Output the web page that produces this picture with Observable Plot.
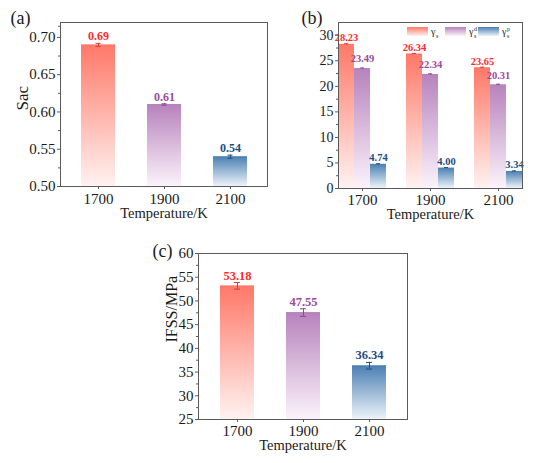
<!DOCTYPE html>
<html>
<head>
<meta charset="utf-8">
<script src="https://cdn.jsdelivr.net/npm/d3@7"></script>
<script src="https://cdn.jsdelivr.net/npm/@observablehq/plot@0.6"></script>
<style>
  html, body { margin: 0; padding: 0; background: #fff; }
  #root { position: relative; width: 550px; height: 463px; overflow: hidden; font-family: "Liberation Serif", serif; }
  .panel { position: absolute; }
  .panel svg { overflow: visible; }
  .panel svg, .panel svg text, .panel svg g { font-family: "Liberation Serif", serif !important; }
</style>
</head>
<body>
<svg width="0" height="0" style="position:absolute">
  <defs>
    <linearGradient id="gRed" x1="0" y1="0" x2="0" y2="1">
      <stop offset="0" stop-color="#ff7868"/>
      <stop offset="1" stop-color="#fff2f0"/>
    </linearGradient>
    <linearGradient id="gPurple" x1="0" y1="0" x2="0" y2="1">
      <stop offset="0" stop-color="#b782bc"/>
      <stop offset="1" stop-color="#fbf3fb"/>
    </linearGradient>
    <linearGradient id="gBlue" x1="0" y1="0" x2="0" y2="1">
      <stop offset="0" stop-color="#4a7fb2"/>
      <stop offset="1" stop-color="#edf3fa"/>
    </linearGradient>
  </defs>
</svg>
<div id="root">
  <div class="panel" id="pa" style="left:0;top:0"></div>
  <div class="panel" id="pb" style="left:275px;top:0"></div>
  <div class="panel" id="pc" style="left:130px;top:225px"></div>
</div>
<script>
// ---------- data ----------
const temps = ["1700", "1900", "2100"];

const sacValues = [0.69, 0.61, 0.54];
const sacErrors = [0.002, 0.001, 0.002];
const sacTicks = [0.50, 0.55, 0.60, 0.65, 0.70];
const sacMinorTicks = [0.525, 0.575, 0.625, 0.675, 0.715];

const gammaKeys = ["s", "d", "p"];
const gammaS = [28.23, 26.34, 23.65];
const gammaD = [23.49, 22.34, 20.31];
const gammaP = [4.74, 4.00, 3.34];
const gammaErr = [0.1, 0.1, 0.1];
const gammaTicks = [0, 5, 10, 15, 20, 25, 30];
const gammaMinorTicks = [2.5, 7.5, 12.5, 17.5, 22.5, 27.5];

const ifssValues = [53.18, 47.55, 36.34];
const ifssErrors = [0.7, 0.8, 0.7];
const ifssTicks = [25, 30, 35, 40, 45, 50, 55, 60];
const ifssMinorTicks = [27.5, 32.5, 37.5, 42.5, 47.5, 52.5, 57.5];

// ---------- styles ----------
const serif = "Liberation Serif";
const fills = ["url(#gRed)", "url(#gPurple)", "url(#gBlue)"];
const inks = ["#ff2b2b", "#9a4b9a", "#1f4d7c"];
const errInks = ["#d83a3a", "#8a4a8a", "#1f4d7c"];
const frameColor = "#5a5a5a";
const styleFor = size => ({fontFamily: serif, fontSize: size + "px", color: "#1a1a1a", background: "transparent", overflow: "visible"});

function rows(values, errors) {
  return temps.map((t, i) => ({temp: t, value: values[i], err: errors[i], fill: fills[i], ink: inks[i], eink: errInks[i]}));
}

function simplePanel({values, errors, domain, ticks, minor, fmt, yLabel, tag, width, height, margins, yLabelDx, yLabelSize, labelSize, capInset, tagDx, tagDy, xTitleDy, tickFont, xPad}) {
  const data = rows(values, errors);
  return Plot.plot({
    width, height,
    marginLeft: margins[0], marginRight: margins[1], marginTop: margins[2], marginBottom: margins[3],
    style: styleFor(tickFont),
    x: {domain: temps, paddingInner: 0.49, paddingOuter: 0.31},
    y: {domain},
    color: {type: "identity"},
    marks: [
      Plot.barY(data, {x: "temp", y1: () => domain[0], y2: "value", fill: "fill"}),
      Plot.ruleX(data, {x: "temp", y1: d => d.value - d.err, y2: d => d.value + d.err, stroke: "eink", strokeWidth: 1}),
      Plot.tickY(data, {x: "temp", y: d => d.value + d.err, stroke: "eink", insetLeft: capInset, insetRight: capInset}),
      Plot.tickY(data, {x: "temp", y: d => d.value - d.err, stroke: "eink", insetLeft: capInset, insetRight: capInset}),
      Plot.text(data, {x: "temp", y: d => d.value + d.err, text: d => d.value.toFixed(2), dy: -7, fill: "ink", fontWeight: "bold", fontSize: labelSize, fontFamily: serif}),
      Plot.frame({stroke: frameColor}),
      Plot.axisY({ticks, tickFormat: fmt, tickSize: 3, tickPadding: 2, stroke: frameColor, label: null, fontFamily: serif}),
      Plot.axisY({ticks: minor, tickSize: 2, stroke: frameColor, fill: "none", label: null}),
      Plot.axisX({tickSize: 3, tickPadding: xPad, stroke: frameColor, label: null, fontFamily: serif}),
      Plot.text(["Temperature/K"], {frameAnchor: "bottom", lineAnchor: "middle", dy: xTitleDy, fontSize: 14.5, fontFamily: serif}),
      Plot.text([yLabel], {frameAnchor: "left", lineAnchor: "middle", dx: yLabelDx, dy: 6, rotate: -90, fontSize: yLabelSize, fontFamily: serif}),
      Plot.text([tag], {frameAnchor: "top-left", lineAnchor: "middle", dx: tagDx, dy: tagDy, textAnchor: "start", fontSize: 18, fontFamily: serif})
    ]
  });
}

// ---------- panel (a) ----------
document.getElementById("pa").append(simplePanel({
  values: sacValues, errors: sacErrors, domain: [0.5, 0.72], ticks: sacTicks, minor: sacMinorTicks, fmt: ".2f",
  yLabel: "Sac", tag: "(a)", width: 275, height: 225, margins: [60, 8, 22, 39],
  yLabelDx: -38, yLabelSize: 17, labelSize: 12, capInset: 14.5, tagDx: -50, tagDy: -4, xTitleDy: 27, tickFont: 15, xPad: 3.5
}));

// ---------- panel (b) ----------
const gammaSeries = [gammaS, gammaD, gammaP];
const gammaRows = [];
temps.forEach((t, i) => gammaKeys.forEach((k, j) => gammaRows.push({
  temp: t, series: k, value: gammaSeries[j][i], err: gammaErr[i], fill: fills[j], ink: inks[j], eink: errInks[j]
})));

const plotB = Plot.plot({
  width: 275, height: 225,
  marginLeft: 50, marginRight: 15, marginTop: 22, marginBottom: 37,
  style: styleFor(14),
  fx: {domain: temps, paddingInner: 0.29, paddingOuter: 0.17, label: null},
  x: {domain: gammaKeys, paddingInner: 0, paddingOuter: 0, axis: null},
  y: {domain: [0, 32.5]},
  color: {type: "identity"},
  marks: [
    Plot.barY(gammaRows, {fx: "temp", x: "series", y: "value", fill: "fill"}),
    Plot.ruleX(gammaRows, {fx: "temp", x: "series", y1: d => d.value - d.err, y2: d => d.value + d.err, stroke: "eink"}),
    Plot.tickY(gammaRows, {fx: "temp", x: "series", y: d => d.value + d.err, stroke: "eink", insetLeft: 6, insetRight: 6}),
    ...[0, 1, 2].map(j => Plot.text(gammaRows.filter(d => d.series === gammaKeys[j]), {
      fx: "temp", x: "series", y: d => d.value + d.err, text: d => d.value.toFixed(2),
      dy: j === 1 ? -9 : -6, fill: "ink", fontWeight: "bold", fontSize: 10.5, fontFamily: serif
    })),
    Plot.frame({stroke: frameColor, facet: "super"}),
    Plot.axisY({ticks: gammaTicks, tickSize: 3, tickPadding: 2, stroke: frameColor, label: null, fontFamily: serif}),
    Plot.axisY({ticks: gammaMinorTicks, tickSize: 2, stroke: frameColor, fill: "none", label: null}),
    Plot.axisFx({anchor: "bottom", tickSize: 3, tickPadding: 2.5, stroke: frameColor, label: null, fontSize: 15, fontFamily: serif}),
    Plot.text(["Temperature/K"], {frameAnchor: "bottom", lineAnchor: "middle", dy: 26, fontSize: 14.5, facet: "super", fontFamily: serif}),
    Plot.text(["(b)"], {frameAnchor: "top-left", lineAnchor: "middle", dx: -37, dy: -4, textAnchor: "start", fontSize: 18, facet: "super", fontFamily: serif})
  ]
});
document.getElementById("pb").append(plotB);

// legend for (b)
const legendSup = ["", "d", "p"];
const leg = d3.select("#pb").append("svg")
  .attr("width", 130).attr("height", 16)
  .style("position", "absolute").style("left", "130px").style("top", "24px")
  .style("font-family", serif);
const legX = [2, 40, 73];
gammaKeys.forEach((k, j) => {
  leg.append("rect").attr("x", legX[j]).attr("y", 3).attr("width", 21).attr("height", 9).attr("fill", fills[j]);
  const t = leg.append("text").attr("x", legX[j] + 24).attr("y", 11).attr("font-size", 10).attr("fill", "#222");
  t.append("tspan").text("γ");
  t.append("tspan").attr("x", legX[j] + 29).attr("y", 13.5).attr("font-size", 6).text("s");
  if (legendSup[j]) t.append("tspan").attr("x", legX[j] + 29).attr("y", 6.5).attr("font-size", 6).text(legendSup[j]);
});

// ---------- panel (c) ----------
document.getElementById("pc").append(simplePanel({
  values: ifssValues, errors: ifssErrors, domain: [25, 60], ticks: ifssTicks, minor: ifssMinorTicks, fmt: "d",
  yLabel: "IFSS/MPa", tag: "(c)", width: 300, height: 238, margins: [68, 23, 28, 44],
  yLabelDx: -27, yLabelSize: 16, labelSize: 12.5, capInset: 14, tagDx: -46, tagDy: -2, xTitleDy: 26, tickFont: 15, xPad: 2.5
}));
</script>
</body>
</html>
